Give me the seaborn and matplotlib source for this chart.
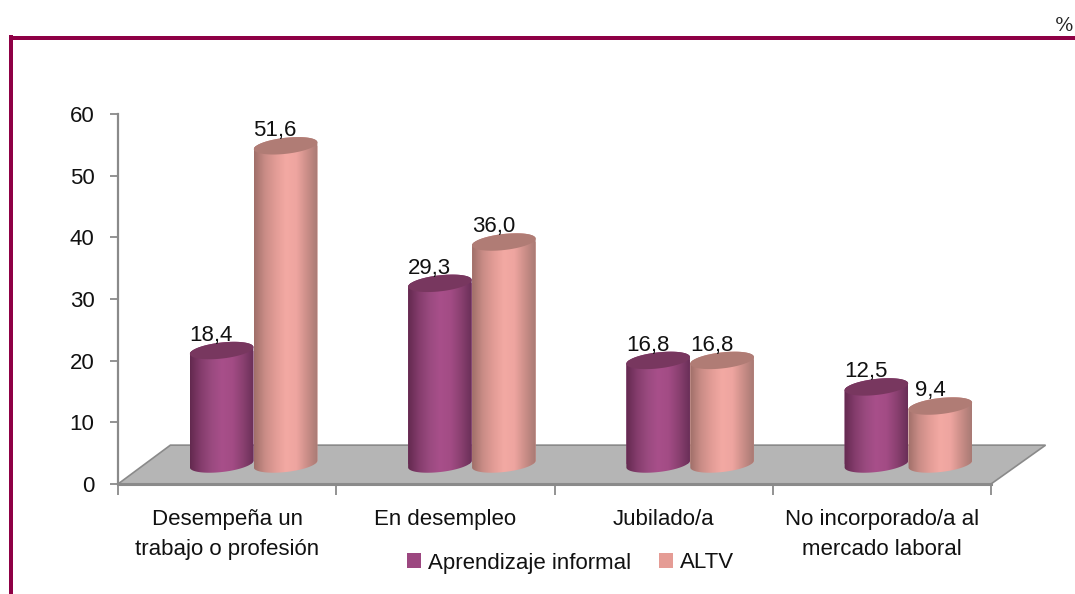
import numpy as np
import pandas as pd
import matplotlib
matplotlib.use("Agg")
import matplotlib.pyplot as plt
from matplotlib.colors import LinearSegmentedColormap
from matplotlib.patches import PathPatch, Polygon
from matplotlib.path import Path
from matplotlib.transforms import IdentityTransform
import seaborn as sns

categories = ["Desempeña un\ntrabajo o profesión", "En desempleo", "Jubilado/a",
              "No incorporado/a al\nmercado laboral"]
series_names = ["Aprendizaje informal", "ALTV"]
informal = [18.4, 29.3, 16.8, 12.5]
altv = [51.6, 36.0, 16.8, 9.4]
y_ticks = [0, 10, 20, 30, 40, 50, 60]
unit_label = "%"

W, H = 1075, 594
sns.set_style("white")
plt.rcParams["font.family"] = ["Liberation Sans", "DejaVu Sans"]
FS = 16
GREY = "#8A8A8A"
FRAME = "#8E0045"

df = pd.DataFrame({
    "cat": categories * 2,
    "serie": [series_names[0]] * 4 + [series_names[1]] * 4,
    "valor": informal + altv,
})

fig = plt.figure(figsize=(W / 100, H / 100), dpi=100, facecolor="white")


def box(l, t, r, b):
    return [l / W, 1 - b / H, (r - l) / W, (b - t) / H]


# frame rules
fig.add_artist(plt.Rectangle((9 / W, 1 - 40 / H), (W - 9) / W, 4 / H, transform=fig.transFigure,
                             fc=FRAME, ec="none"))
fig.add_artist(plt.Rectangle((9 / W, 0), 4 / W, 1 - 35 / H, transform=fig.transFigure,
                             fc=FRAME, ec="none"))
fig.text(1055 / W, 1 - 31 / H, unit_label, fontsize=14, family="DejaVu Serif", color="#222222")

# axes with the scales and the floor
ax = fig.add_axes(box(118, 114, 991, 484))
ax.set_xlim(0, 4)
ax.set_ylim(0, 60)
ax.set_facecolor("none")
for s in ("top", "right"):
    ax.spines[s].set_visible(False)
for s in ("left", "bottom"):
    ax.spines[s].set_color(GREY)
    ax.spines[s].set_linewidth(1.6)
ax.spines["bottom"].set_linewidth(2.2)
ax.set_yticks(y_ticks)
ax.set_xticks(range(5))
ax.set_xticklabels([])
ax.set_xticks([0.5, 1.5, 2.5, 3.5], labels=categories, minor=True)
ax.tick_params(axis="y", length=6, width=1.3, color=GREY, labelsize=FS, left=True, pad=11,
               labelcolor="#111111")
ax.tick_params(axis="x", which="major", length=8, width=1.3, color=GREY, bottom=True)
ax.tick_params(axis="x", which="minor", length=0, labelsize=FS, pad=18, labelcolor="#111111")
for t in ax.get_xticklabels(minor=True):
    t.set_linespacing(1.55)
ax.add_patch(Polygon([(0, 0), (4, 0), (4.25, 6.3), (0.24, 6.3)], closed=True, fc="#B5B5B5",
                     ec=GREY, lw=1.2, clip_on=False, zorder=1))

# axes with the cylinders: same scale, shifted by the chart's depth
BELOW = -5
ab = fig.add_axes(box(144.5, 94, 1017.5, 464 - BELOW * 370 / 60))
ab.set_facecolor("none")
sns.barplot(data=df, x="cat", y="valor", hue="serie", order=categories, hue_order=series_names,
            palette=["#9C4780", "#E59C95"], width=0.586, saturation=1, gap=0, ax=ab, linewidth=0,
            legend=True, zorder=2)
ab.set_xlim(-0.5, 3.5)
ab.set_ylim(BELOW, 60)
leg = ab.legend(loc="center left", bbox_to_anchor=(407 / W, 1 - 563 / H),
                bbox_transform=fig.transFigure, ncol=2, frameon=False, fontsize=FS,
                handlelength=0.62, handleheight=0.62, handletextpad=0.32, columnspacing=1.25,
                labelcolor="#111111", borderpad=0, borderaxespad=0)
ab.axis("off")

cm_purple = LinearSegmentedColormap.from_list(
    "p", ["#63294F", "#843C6C", "#9A4A7F", "#A84F8A", "#A34C85", "#8A4070", "#6A2F58"])
cm_pink = LinearSegmentedColormap.from_list(
    "q", ["#A06F69", "#C98C86", "#E29C96", "#F3A9A3", "#EEA5A0", "#CB8E88", "#A87A74"])
shade = np.linspace(0, 1, 128).reshape(1, -1)

TILT = np.deg2rad(6.5)
SEMI_B = 8


def ell(c, a, t):
    u = np.array([np.cos(TILT), np.sin(TILT)])
    v = np.array([-np.sin(TILT), np.cos(TILT)])
    return np.array(c) + np.outer(np.cos(t), u) * a + np.outer(np.sin(t), v) * SEMI_B


fig.canvas.draw()
to_px = ab.transData
styles = [(cm_purple, "#78375F", 3), (cm_pink, "#B07C75", 4)]
for container, values, (cmap, topc, z) in zip(ab.containers, (informal, altv), styles):
    for patch, value in zip(container.patches, values):
        x0, w = patch.get_x(), patch.get_width()
        xc = x0 + w / 2
        base = to_px.transform((xc, 0))
        top = to_px.transform((xc, value))
        a = abs(to_px.transform((x0 + w, 0))[0] - to_px.transform((x0, 0))[0]) / 2
        low = ell(base, a, np.linspace(np.pi, 2 * np.pi, 60))
        upp = ell(top, a, np.linspace(0, np.pi, 60))
        outline = Path(np.vstack([low, upp, low[:1]]), closed=True)
        patch.set_clip_path(outline, IdentityTransform())
        im = ab.imshow(shade, extent=(x0, x0 + w, BELOW, value + 3), aspect="auto", cmap=cmap,
                       origin="lower", zorder=z, interpolation="bilinear")
        im.set_clip_path(outline, IdentityTransform())
        cap = Path(ell(top, a, np.linspace(0, 2 * np.pi, 80)), closed=True)
        ab.add_patch(PathPatch(cap, transform=IdentityTransform(), fc=topc, ec="none", zorder=z + 0.1))
        ab.annotate(f"{value:.1f}".replace(".", ","), (xc, value), xytext=(-7.5, 7), textcoords="offset points",
                    ha="center", va="baseline", fontsize=FS, color="#111111", zorder=6,
                    annotation_clip=False)
ab.set_xlim(-0.5, 3.5)
ab.set_ylim(BELOW, 60)

fig.savefig("out.png", dpi=100, facecolor="white")
